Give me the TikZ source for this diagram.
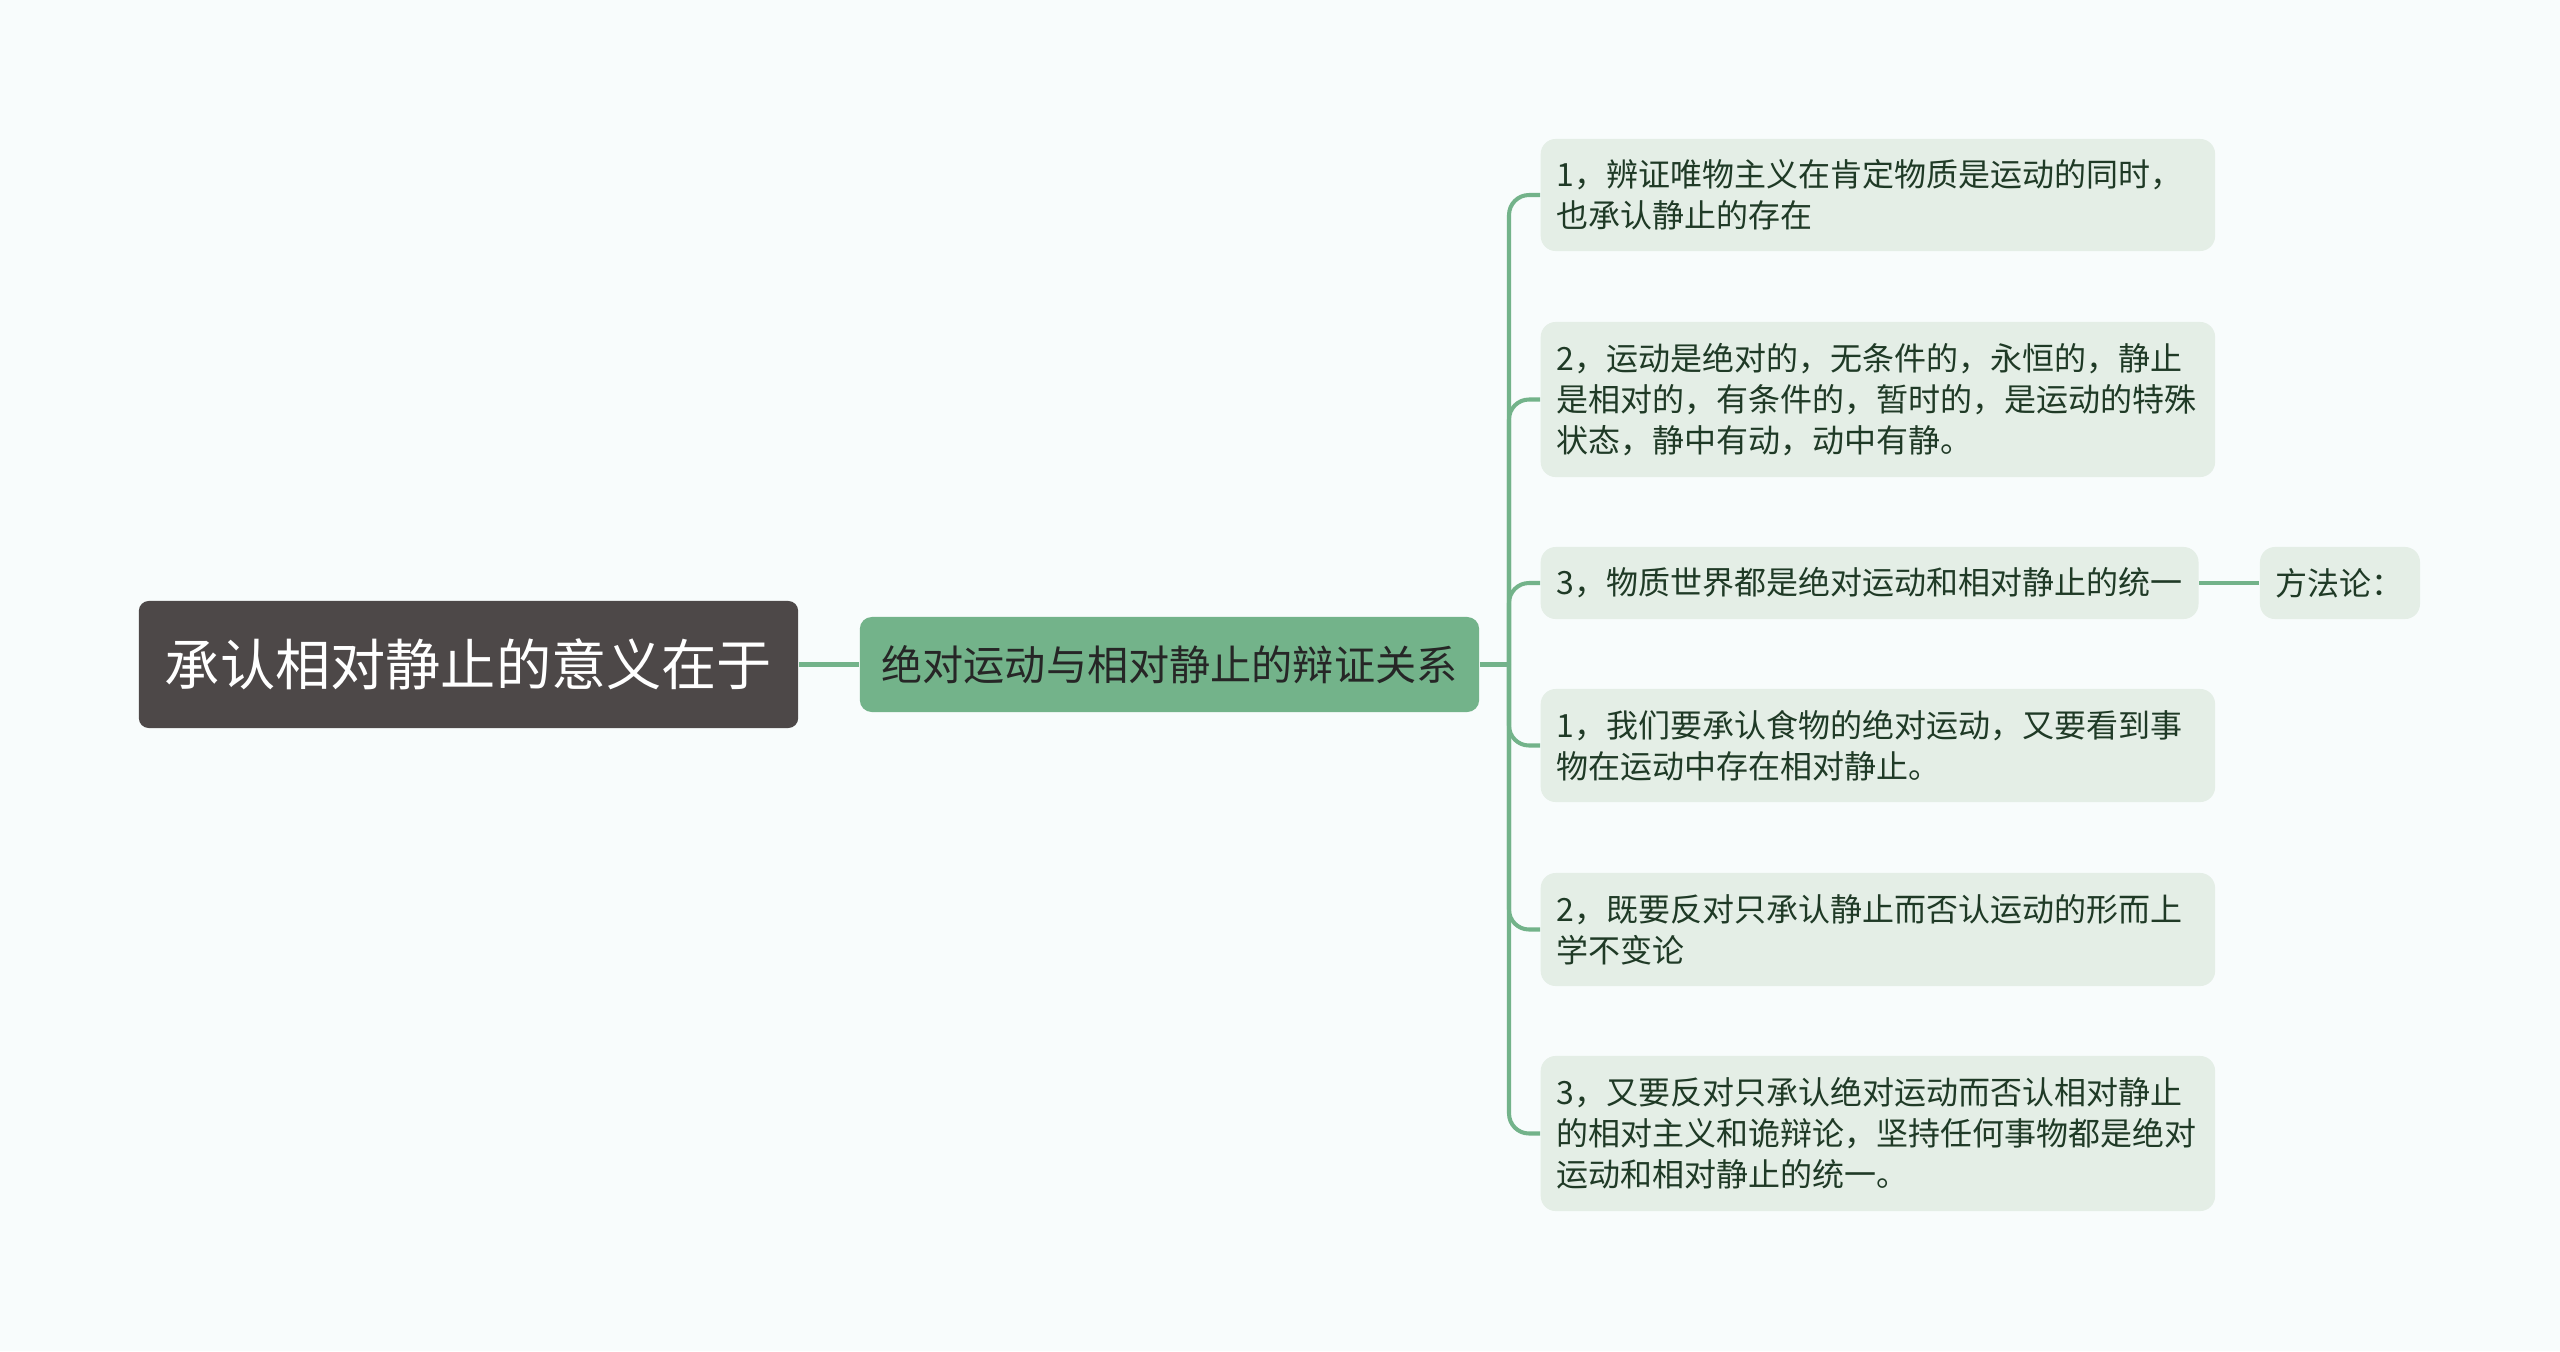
\documentclass[tikz,border=0pt]{standalone}
\usepackage{fontspec}
\newfontfamily\cjk{Noto Sans CJK SC}
\usetikzlibrary{positioning}
\definecolor{bg}{HTML}{F8FCFC}
\definecolor{rootfill}{HTML}{4D4848}
\definecolor{mainfill}{HTML}{73B38A}
\definecolor{leaffill}{HTML}{E4EEE6}
\definecolor{leaftext}{HTML}{1F3A26}
\definecolor{linkc}{HTML}{73B38A}

\begin{document}
\begin{tikzpicture}[x=0.01cm,y=-0.01cm,font=\cjk]
\tikzstyle{root}=[fill=rootfill,text=white,rounded corners=0.1cm,minimum width=6.59cm,minimum height=1.27cm,font=\cjk\fontsize{15.7}{19}\selectfont]
\tikzstyle{main}=[fill=mainfill,text=black!85,rounded corners=0.12cm,minimum width=6.19cm,minimum height=0.95cm,font=\cjk\fontsize{11.7}{14}\selectfont]
\tikzstyle{leaf}=[fill=leaffill,text=leaftext,rounded corners=0.15cm,anchor=west,align=left,inner xsep=0.16cm,font=\cjk\fontsize{9.1}{11.7}\selectfont]
\tikzstyle{wide}=[text width=6.42cm]
\tikzstyle{link}=[draw=linkc,line width=1.15pt,rounded corners=0.2cm]
\fill[bg] (0,0) rectangle (2560,1351);
\useasboundingbox (0,0) rectangle (2560,1351);
\node[root] (root) at (468.5,664.5) {承认相对静止的意义在于};
\node[main] (main) at (1169.5,664.5) {绝对运动与相对静止的辩证关系};
\coordinate (bar) at (1509,664.5);
\node[leaf,wide,minimum height=1.12cm] (c1) at (1540,195) {1，辨证唯物主义在肯定物质是运动的同时，\\也承认静止的存在};
\node[leaf,wide,minimum height=1.55cm] (c2) at (1540,399.5) {2，运动是绝对的，无条件的，永恒的，静止\\是相对的，有条件的，暂时的，是运动的特殊\\状态，静中有动，动中有静。};
\node[leaf,minimum height=0.72cm] (c3) at (1540,583) {3，物质世界都是绝对运动和相对静止的统一};
\node[leaf,minimum height=0.72cm,right=0.6cm of c3] (ff) {方法论：};
\node[leaf,wide,minimum height=1.13cm] (c4) at (1540,745.5) {1，我们要承认食物的绝对运动，又要看到事\\物在运动中存在相对静止。};
\node[leaf,wide,minimum height=1.13cm] (c5) at (1540,929.5) {2，既要反对只承认静止而否认运动的形而上\\学不变论};
\node[leaf,wide,minimum height=1.55cm] (c6) at (1540,1133.5) {3，又要反对只承认绝对运动而否认相对静止\\的相对主义和诡辩论，坚持任何事物都是绝对\\运动和相对静止的统一。};
\draw[link] (root) -- (main);
\draw[link] (main) -- (bar);
\foreach \c in {c1,c2,c3,c4,c5,c6}
  \draw[link] (bar) |- (\c.west);
\draw[link] (c3) -- (ff);
\end{tikzpicture}
\end{document}
